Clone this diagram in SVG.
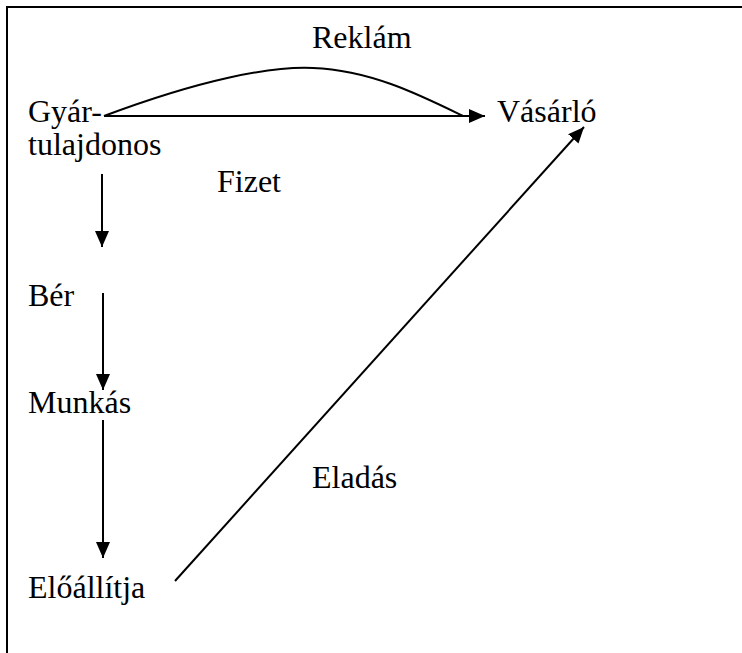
<svg xmlns="http://www.w3.org/2000/svg" width="742" height="653" viewBox="0 0 742 653">
<style>
.t{font-family:"Liberation Serif","Times New Roman",serif;font-size:32px;fill:#000}
.ln{fill:none;stroke:#000;stroke-width:2}
</style>
<defs>
<marker id="ah" viewBox="0 0 10 10" refX="10" refY="5" markerWidth="16" markerHeight="14" preserveAspectRatio="none" markerUnits="userSpaceOnUse" orient="auto"><path d="M0,0 L10,5 L0,10 Z" fill="#000"/></marker>
</defs>
<rect width="742" height="653" fill="#fff"/>
<path class="ln" d="M7,653 V7 H742"/>
<g id="connectors">
<path class="ln" d="M104,116 H485" marker-end="url(#ah)"/>
<path class="ln" d="M104,116 C200,80 270,66 313,68 C370,70 420,95 463,116"/>
<path class="ln" d="M102,174 V247" marker-end="url(#ah)"/>
<path class="ln" d="M103,293 V390" marker-end="url(#ah)"/>
<path class="ln" d="M103,420 V558" marker-end="url(#ah)"/>
<path class="ln" d="M175,581 L584,127" marker-end="url(#ah)"/>
</g>
<g id="reklam"><text class="t" x="312" y="48">Reklám</text></g>
<g id="gyartulajdonos"><text class="t" x="28" y="122">Gyár-</text><text class="t" x="28" y="155">tulajdonos</text></g>
<g id="vasarlo"><text class="t" x="497" y="122">Vásárló</text></g>
<g id="fizet"><text class="t" x="217" y="192">Fizet</text></g>
<g id="ber"><text class="t" x="28" y="306">Bér</text></g>
<g id="munkas"><text class="t" x="28" y="413">Munkás</text></g>
<g id="eladas"><text class="t" x="312" y="488">Eladás</text></g>
<g id="eloallitja"><text class="t" x="28" y="598">Előállítja</text></g>
</svg>
